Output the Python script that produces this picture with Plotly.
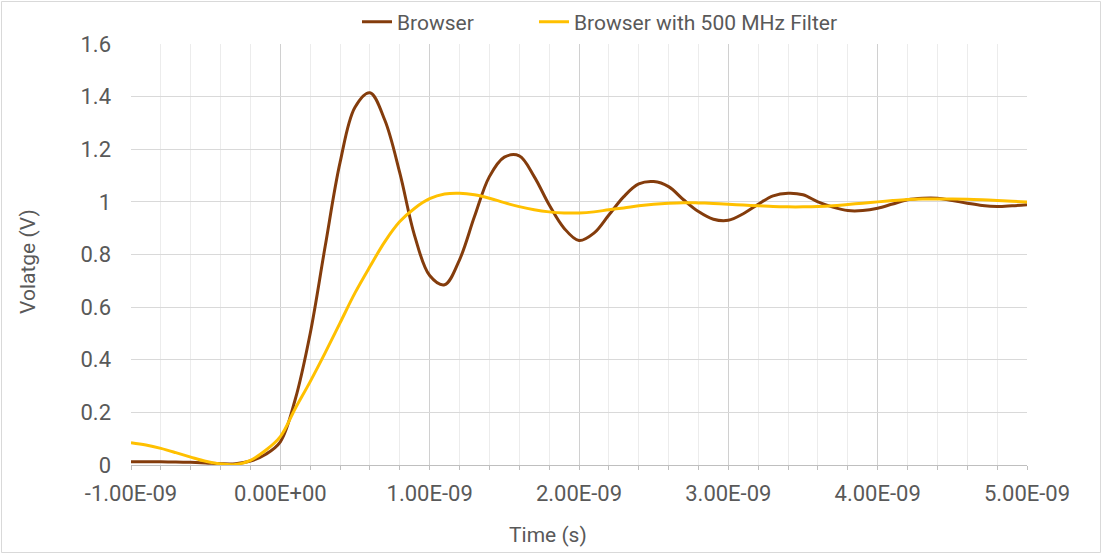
import plotly.graph_objects as go

# Time axis in units of 1e-10 s, converted to seconds
time_steps = list(range(-10, 51))
time_s = [round(k * 1e-10, 12) for k in time_steps]

browser = [
    0.012, 0.012, 0.012, 0.011, 0.010, 0.008, 0.005, 0.005, 0.015, 0.040,
    0.088, 0.25, 0.50, 0.83, 1.15, 1.36, 1.415, 1.31, 1.11, 0.87,
    0.72, 0.685, 0.78, 0.944, 1.096, 1.17, 1.175, 1.096, 0.989, 0.90,
    0.853, 0.881, 0.95, 1.02, 1.068, 1.077, 1.058, 1.008, 0.963, 0.934,
    0.930, 0.955, 0.991, 1.023, 1.033, 1.027, 1.0, 0.98, 0.967, 0.967,
    0.976, 0.992, 1.008, 1.014, 1.014, 1.005, 0.995, 0.986, 0.982, 0.985,
    0.989,
]

browser_filter = [
    0.085, 0.076, 0.063, 0.047, 0.030, 0.014, 0.004, 0.002, 0.018, 0.055,
    0.108, 0.215, 0.317, 0.426, 0.54, 0.654, 0.754, 0.849, 0.925, 0.976,
    1.012, 1.030, 1.033, 1.027, 1.014, 0.997, 0.982, 0.970, 0.962, 0.958,
    0.958, 0.962, 0.970, 0.977, 0.985, 0.991, 0.995, 0.997, 0.996, 0.994,
    0.991, 0.988, 0.985, 0.982, 0.981, 0.981, 0.982, 0.985, 0.990, 0.995,
    1.0, 1.005, 1.009, 1.011, 1.011, 1.011, 1.010, 1.008, 1.005, 1.002,
    1.0,
]

x_tick_vals = [-1e-9, 0.0, 1e-9, 2e-9, 3e-9, 4e-9, 5e-9]
x_tick_text = ["-1.00E-09", "0.00E+00", "1.00E-09", "2.00E-09",
               "3.00E-09", "4.00E-09", "5.00E-09"]
y_tick_vals = [0, 0.2, 0.4, 0.6, 0.8, 1.0, 1.2, 1.4, 1.6]
y_tick_text = ["0", "0.2", "0.4", "0.6", "0.8", "1", "1.2", "1.4", "1.6"]

TEXT = "#595959"
FONT = "Roboto"

fig = go.Figure()
fig.add_trace(go.Scatter(x=time_s, y=browser, mode="lines", name="Browser",
                         legend="legend",
                         line=dict(color="#843C0C", width=3, shape="spline")))
fig.add_trace(go.Scatter(x=time_s, y=browser_filter, mode="lines",
                         name="Browser with 500 MHz Filter", legend="legend2",
                         line=dict(color="#FFC000", width=3, shape="spline")))

L, R, T, B = 131, 75, 44, 89
W, H = 1102, 554
pw, ph = W - L - R, H - T - B

def px(x):
    return (x - L) / pw

def py(y):
    return (H - B - y) / ph

legend_common = dict(orientation="h", xanchor="left", y=py(22),
                     yanchor="middle", font=dict(size=21, color=TEXT),
                     bgcolor="rgba(0,0,0,0)")

fig.update_layout(
    width=W, height=H,
    margin=dict(l=L, r=R, t=T, b=B, autoexpand=False),
    paper_bgcolor="white", plot_bgcolor="white",
    font=dict(family=FONT, color=TEXT, size=21),
    showlegend=True,
    legend=dict(x=px(357), **legend_common),
    legend2=dict(x=px(534), **legend_common),
    xaxis=dict(range=[-1e-9, 5e-9], tickmode="array", tickvals=x_tick_vals,
               ticktext=x_tick_text, showgrid=True, gridcolor="#d0d0d0",
               gridwidth=1, zeroline=False, showline=True, linecolor="#bfbfbf",
               linewidth=1, ticks="outside", ticklen=4, tickcolor="#bfbfbf",
               ticklabelstandoff=5, automargin=False,
               tickfont=dict(size=22, color=TEXT),
               minor=dict(dtick=2e-10, tick0=0, showgrid=True,
                          gridcolor="#ececec", gridwidth=1, ticks="outside",
                          ticklen=4, tickcolor="#bfbfbf")),
    yaxis=dict(range=[0, 1.6], tickmode="array", tickvals=y_tick_vals,
               ticktext=y_tick_text, showgrid=True, gridcolor="#d9d9d9",
               gridwidth=1, zeroline=False, showline=False, ticks="",
               ticklabelstandoff=19, automargin=False,
               tickfont=dict(size=22, color=TEXT)),
    annotations=[
        dict(text="Time (s)", x=px(548), y=py(535), xref="paper",
             yref="paper", showarrow=False, xanchor="center",
             yanchor="middle", font=dict(size=21, color=TEXT)),
        dict(text="Volatge (V)", x=px(28), y=py(262), xref="paper",
             yref="paper", showarrow=False, xanchor="center",
             yanchor="middle", textangle=-90,
             font=dict(size=21, color=TEXT)),
    ],
    shapes=[
        dict(type="rect", xref="paper", yref="paper",
             x0=px(1.5), x1=px(1100.5), y0=py(552.5), y1=py(1.5),
             line=dict(color="#d9d9d9", width=1), fillcolor="rgba(0,0,0,0)",
             layer="below"),
    ],
)

fig.write_html("out.html",
               config={"displayModeBar": False},
               post_script="document.body.style.margin='0';")
